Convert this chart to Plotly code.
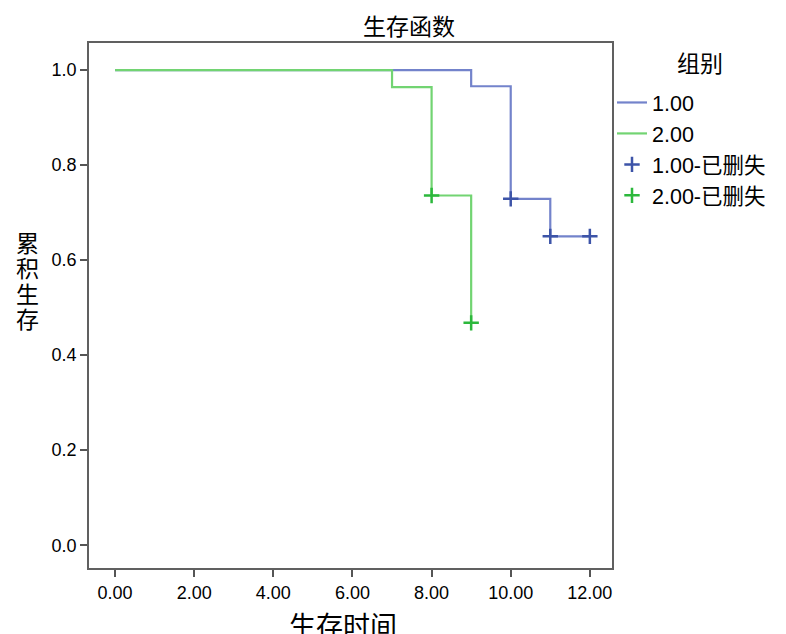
import plotly.graph_objects as go

# Group 1.00
g1_time = [0, 9, 10, 11, 12]
g1_surv = [1.0, 0.966, 0.729, 0.650, 0.650]
g1_cens_time = [10, 11, 12]
g1_cens_surv = [0.729, 0.650, 0.650]

# Group 2.00
g2_time = [0, 7, 8, 9]
g2_surv = [1.0, 0.964, 0.736, 0.468]
g2_cens_time = [8, 9]
g2_cens_surv = [0.736, 0.468]

x_ticks = [0, 2, 4, 6, 8, 10, 12]
x_tick_labels = ["0.00", "2.00", "4.00", "6.00", "8.00", "10.00", "12.00"]
y_ticks = [0.0, 0.2, 0.4, 0.6, 0.8, 1.0]
y_tick_labels = ["0.0", "0.2", "0.4", "0.6", "0.8", "1.0"]

BLUE_LINE = "#7383cb"
BLUE_MARK = "#3d54a8"
GREEN_LINE = "#72d472"
GREEN_MARK = "#2cb83c"
FONT = "Liberation Sans, Arial, Noto Sans CJK SC"
CJK = "Noto Sans CJK SC, Liberation Sans"

fig = go.Figure()
fig.add_trace(go.Scatter(x=g1_time, y=g1_surv, mode="lines", line=dict(color=BLUE_LINE, width=2.2, shape="hv"),
                         name="1.00"))
fig.add_trace(go.Scatter(x=g2_time, y=g2_surv, mode="lines", line=dict(color=GREEN_LINE, width=2.2, shape="hv"),
                         name="2.00"))
fig.add_trace(go.Scatter(x=g1_cens_time, y=g1_cens_surv, mode="markers",
                         marker=dict(symbol="cross-thin", size=11, line=dict(color=BLUE_MARK, width=2.5)),
                         name="1.00-已删失"))
fig.add_trace(go.Scatter(x=g2_cens_time, y=g2_cens_surv, mode="markers",
                         marker=dict(symbol="cross-thin", size=11, line=dict(color=GREEN_MARK, width=2.5)),
                         name="2.00-已删失"))

axis_common = dict(showgrid=False, zeroline=False, showline=True, linecolor="#606060", linewidth=1.8,
                   mirror=True, ticks="outside", ticklen=7, tickcolor="#555555", tickwidth=1.5,
                   tickfont=dict(family=FONT, size=18, color="black"))

ylab = "<br>".join('<span style="font-size:23px">%s</span>' % c for c in "累积生存")

fig.update_layout(
    width=778, height=626,
    margin=dict(l=81, r=174, t=35, b=66),
    paper_bgcolor="white", plot_bgcolor="white",
    xaxis=dict(range=[-0.66, 12.56], tickvals=x_ticks, ticktext=x_tick_labels, **axis_common),
    yaxis=dict(range=[-0.048, 1.057], tickvals=y_ticks, ticktext=y_tick_labels, **axis_common),
    showlegend=True,
    legend=dict(x=1.0, xanchor="left", y=(568 - 82) / 525, yanchor="top",
                font=dict(family=FONT, size=21.5, color="black"),
                bgcolor="rgba(0,0,0,0)", itemwidth=30, tracegroupgap=0),
    annotations=[
        dict(text="生存函数", xref="paper", yref="paper", x=(409 - 89) / 523, y=(568 - 25) / 525,
             xanchor="center", yanchor="middle", showarrow=False,
             font=dict(family=CJK, size=23, color="black")),
        dict(text="组别", xref="paper", yref="paper", x=(700 - 89) / 523, y=(568 - 62) / 525,
             xanchor="center", yanchor="middle", showarrow=False,
             font=dict(family=CJK, size=23, color="black")),
        dict(text=ylab, xref="paper", yref="paper", x=(27 - 89) / 523, y=(568 - 280) / 525,
             xanchor="center", yanchor="middle", showarrow=False, align="center",
             font=dict(family=CJK, size=19.5, color="black")),
        dict(text="生存时间", xref="paper", yref="paper", x=(343 - 89) / 523, y=0, yshift=-35,
             xanchor="center", yanchor="top", showarrow=False,
             font=dict(family=CJK, size=27, color="black")),
    ],
)

fig.write_html("out.html")
